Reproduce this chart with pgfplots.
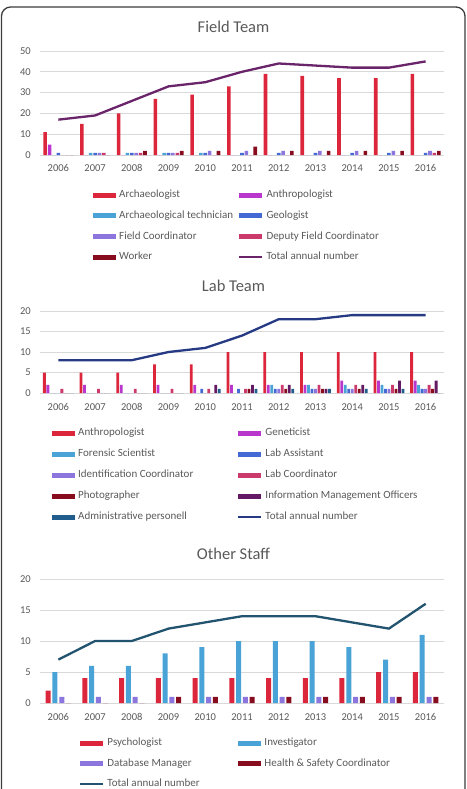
\documentclass[border=0pt]{standalone}
\usepackage{pgfplots}
\usepackage{pgfplotstable}
\usepackage{fontspec}
\setmainfont{Carlito}
\pgfplotsset{compat=1.18}

% staffing counts per year (x = 0 is 2006)
\pgfplotstableread{
x arch anth tech geol fco dfc work total
0 11 5 0 1 0 0 0 17
1 15 0 1 1 1 1 0 19
2 20 0 1 1 1 1 2 26
3 27 0 1 1 1 1 2 33
4 29 0 1 1 2 0 2 35
5 33 0 0 1 2 0 4 40
6 39 0 0 1 2 0 2 44
7 38 0 0 1 2 0 2 43
8 37 0 0 1 2 0 2 42
9 37 0 0 1 2 0 2 42
10 39 0 0 1 2 1 2 45
}\fieldtab

\pgfplotstableread{
x anth gen for las idc lco pho imo adm total
0 5 2 0 0 0 1 0 0 0 8
1 5 2 0 0 0 1 0 0 0 8
2 5 2 0 0 0 1 0 0 0 8
3 7 2 0 0 0 1 0 0 0 10
4 7 2 0 1 0 1 0 2 1 11
5 10 2 0 1 0 1 1 2 1 14
6 10 2 2 1 1 2 1 2 1 18
7 10 2 2 1 1 2 1 1 1 18
8 10 3 2 1 1 2 1 2 1 19
9 10 3 2 1 1 2 1 3 1 19
10 10 3 2 1 1 2 1 3 0 19
}\labtab

\pgfplotstableread{
x psy inv dbm hsc total
0 2 5 1 0 7
1 4 6 1 0 10
2 4 6 1 0 10
3 4 8 1 1 12
4 4 9 1 1 13
5 4 10 1 1 14
6 4 10 1 1 14
7 4 10 1 1 14
8 4 9 1 1 13
9 5 7 1 1 12
10 5 11 1 1 16
}\othertab

\definecolor{cRed}{RGB}{220,38,60}
\definecolor{cMag}{RGB}{185,55,205}
\definecolor{cLBlue}{RGB}{74,163,214}
\definecolor{cBlue}{RGB}{68,104,212}
\definecolor{cLav}{RGB}{140,118,222}
\definecolor{cPink}{RGB}{204,58,108}
\definecolor{cDRed}{RGB}{135,12,30}
\definecolor{cDPurp}{RGB}{100,25,100}
\definecolor{cAdm}{RGB}{32,92,140}
\definecolor{lineField}{RGB}{106,36,106}
\definecolor{lineLab}{RGB}{38,58,132}
\definecolor{lineOther}{RGB}{34,84,112}
\definecolor{gridc}{RGB}{217,217,217}
\definecolor{textc}{RGB}{89,89,89}
\definecolor{framec}{RGB}{60,60,60}

\pgfplotsset{
  panel/.style={
    scale only axis, width=404bp,
    xmin=-0.5, xmax=10.5,
    xtick={0,...,10},
    xticklabels={2006,2007,2008,2009,2010,2011,2012,2013,2014,2015,2016},
    axis line style={draw=none},
    major tick length=0pt,
    ymajorgrids,
    grid style={line width=0.75bp, color=gridc},
    tick label style={font=\fontsize{10.5bp}{12bp}\selectfont, text=textc},
    /pgf/number format/assume math mode=true,
    xticklabel style={anchor=center},
    yticklabel style={anchor=east, inner sep=0pt, xshift=-9bp},
    clip=false,
    legend columns=2,
    legend cell align=left,
    legend style={draw=none, fill=none, inner sep=0pt, anchor=north west,
      font=\fontsize{11bp}{12bp}\selectfont, text=textc,
      nodes={inner sep=0pt, text height=7.5bp, text depth=2.5bp},
      /tikz/every odd column/.append style={column sep=3bp}},
  },
  barleg/.style={legend image code/.code={\fill[##1, draw=none] (0bp,-2.4bp) rectangle (23bp,2.4bp);}},
  lineleg/.style={legend image code/.code={\draw[##1] (0bp,0bp) -- (23bp,0bp);}},
  fbar/.style 2 args={ybar, bar width=3.6bp, bar shift=#1, fill=#2, draw=none, barleg},
  lbar/.style 2 args={ybar, bar width=2.8bp, bar shift=#1, fill=#2, draw=none, barleg},
  obar/.style 2 args={ybar, bar width=5bp, bar shift=#1, fill=#2, draw=none, barleg},
  total/.style={sharp plot, line width=2.3bp, color=#1, mark=none, lineleg},
}

\begin{document}
\begin{tikzpicture}
\path[use as bounding box] (0,0) rectangle (467bp,-789bp);
\draw[line width=1.3bp, color=framec, rounded corners=9bp]
  (1.5bp,-800bp) -- (1.5bp,-7bp) -- (465bp,-7bp) -- (465bp,-800bp);

\node[font=\fontsize{16.5bp}{18bp}\selectfont, text=textc] at (233.5bp,-27bp) {Field Team};
\node[font=\fontsize{16.5bp}{18bp}\selectfont, text=textc] at (233.5bp,-286bp) {Lab Team};
\node[font=\fontsize{16.5bp}{18bp}\selectfont, text=textc] at (233.5bp,-554bp) {Other Staff};

% Field team
\begin{axis}[panel, at={(40bp,-155bp)}, anchor=south west, height=104bp,
  ymin=0, ymax=50, ytick={0,10,...,50},
  xticklabel style={yshift=-13bp},
  legend style={at={(0.1312,-0.3365)}, row sep=10.7bp}]
\addplot[fbar={-13.2bp}{cRed}] table[x=x,y=arch] {\fieldtab};
\addlegendentry{\makebox[119bp][l]{Archaeologist}}
\addplot[fbar={-8.8bp}{cMag}] table[x=x,y=anth] {\fieldtab};
\addlegendentry{Anthropologist}
\addplot[fbar={-4.4bp}{cLBlue}] table[x=x,y=tech] {\fieldtab};
\addlegendentry{\makebox[119bp][l]{Archaeological technician}}
\addplot[fbar={0bp}{cBlue}] table[x=x,y=geol] {\fieldtab};
\addlegendentry{Geologist}
\addplot[fbar={4.4bp}{cLav}] table[x=x,y=fco] {\fieldtab};
\addlegendentry{\makebox[119bp][l]{Field Coordinator}}
\addplot[fbar={8.8bp}{cPink}] table[x=x,y=dfc] {\fieldtab};
\addlegendentry{Deputy Field Coordinator}
\addplot[fbar={13.2bp}{cDRed}] table[x=x,y=work] {\fieldtab};
\addlegendentry{\makebox[119bp][l]{Worker}}
\addplot[total=lineField] table[x=x,y=total] {\fieldtab};
\addlegendentry{Total annual number}
\end{axis}

% Lab team
\begin{axis}[panel, at={(40bp,-393bp)}, anchor=south west, height=82bp,
  ymin=0, ymax=20, ytick={0,5,...,20},
  xticklabel style={yshift=-14bp},
  legend style={at={(0.0297,-0.4268)}, row sep=11bp}]
\addplot[lbar={-14bp}{cRed}] table[x=x,y=anth] {\labtab};
\addlegendentry{\makebox[159bp][l]{Anthropologist}}
\addplot[lbar={-10.5bp}{cMag}] table[x=x,y=gen] {\labtab};
\addlegendentry{Geneticist}
\addplot[lbar={-7bp}{cLBlue}] table[x=x,y=for] {\labtab};
\addlegendentry{\makebox[159bp][l]{Forensic Scientist}}
\addplot[lbar={-3.5bp}{cBlue}] table[x=x,y=las] {\labtab};
\addlegendentry{Lab Assistant}
\addplot[lbar={0bp}{cLav}] table[x=x,y=idc] {\labtab};
\addlegendentry{\makebox[159bp][l]{Identification Coordinator}}
\addplot[lbar={3.5bp}{cPink}] table[x=x,y=lco] {\labtab};
\addlegendentry{Lab Coordinator}
\addplot[lbar={7bp}{cDRed}] table[x=x,y=pho] {\labtab};
\addlegendentry{\makebox[159bp][l]{Photographer}}
\addplot[lbar={10.5bp}{cDPurp}] table[x=x,y=imo] {\labtab};
\addlegendentry{Information Management Officers}
\addplot[lbar={14bp}{cAdm}] table[x=x,y=adm] {\labtab};
\addlegendentry{\makebox[159bp][l]{Administrative personell}}
\addplot[total=lineLab] table[x=x,y=total] {\labtab};
\addlegendentry{Total annual number}
\end{axis}

% Other staff
\begin{axis}[panel, at={(40bp,-703bp)}, anchor=south west, height=124bp,
  ymin=0, ymax=20, ytick={0,5,...,20},
  xticklabel style={yshift=-14bp},
  legend style={at={(0.0965,-0.2823)}, row sep=10.5bp}]
\addplot[obar={-10.2bp}{cRed}] table[x=x,y=psy] {\othertab};
\addlegendentry{\makebox[131bp][l]{Psychologist}}
\addplot[obar={-3.4bp}{cLBlue}] table[x=x,y=inv] {\othertab};
\addlegendentry{Investigator}
\addplot[obar={3.4bp}{cLav}] table[x=x,y=dbm] {\othertab};
\addlegendentry{\makebox[131bp][l]{Database Manager}}
\addplot[obar={10.2bp}{cDRed}] table[x=x,y=hsc] {\othertab};
\addlegendentry{Health \& Safety Coordinator}
\addplot[total=lineOther] table[x=x,y=total] {\othertab};
\addlegendentry{\makebox[131bp][l]{Total annual number}}
\end{axis}
\end{tikzpicture}
\end{document}
